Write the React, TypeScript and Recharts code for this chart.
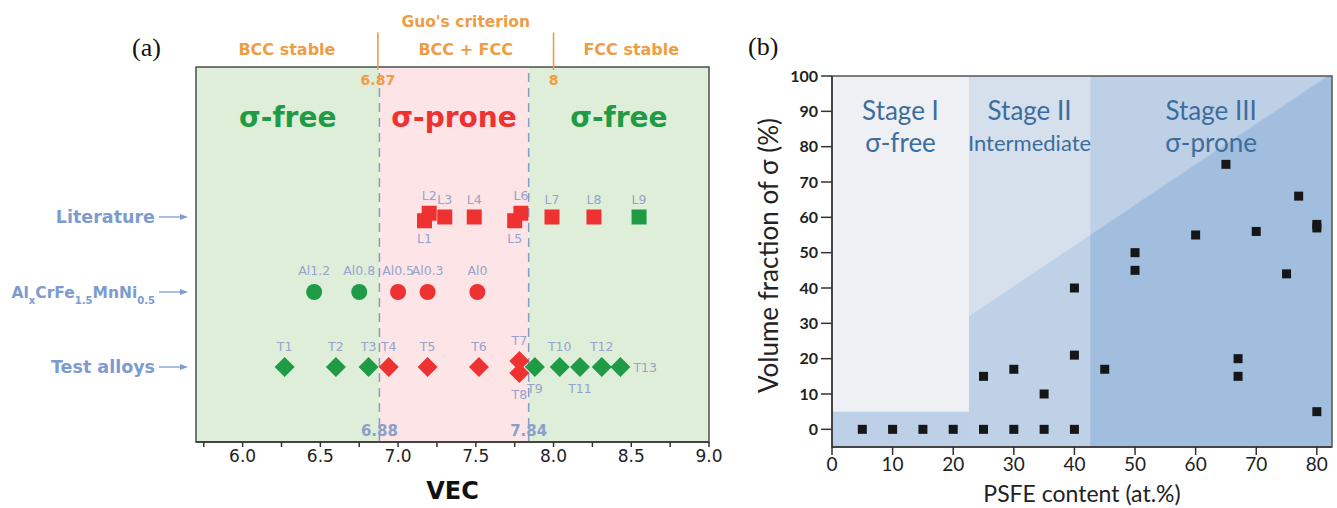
import React from 'react';
import {
  ScatterChart,
  ComposedChart,
  Scatter,
  Area,
  XAxis,
  YAxis,
  ReferenceArea,
  ReferenceLine,
  ReferenceDot,
} from 'recharts';

/* ---------------- (a) VEC map ---------------- */
const vecDomain: [number, number] = [5.7, 9.0];
const vecTicks = [5.75, 6.0, 6.25, 6.5, 6.75, 7.0, 7.25, 7.5, 7.75, 8.0, 8.25, 8.5, 8.75, 9.0];
const rowDomain: [number, number] = [0, 5];
const rowTicks = [1, 2, 3];
const rowTickLabels = ['Test alloys', 'AlxCrFe1.5MnNi0.5', 'Literature'];
// formula of the alloy series: [text, isSubscript]
const alloyFormula: [string, boolean][] = [
  ['Al', false], ['x', true], ['CrFe', false], ['1.5', true], ['MnNi', false], ['0.5', true],
];

const sigmaBounds = [6.88, 7.84];
const guoBounds = [6.87, 8];
const phaseLabels = ['BCC stable', 'BCC + FCC', 'FCC stable'];
const regionLabels = ['σ-free', 'σ-prone', 'σ-free'];

const literatureNames = ['L1', 'L2', 'L3', 'L4', 'L5', 'L6', 'L7', 'L8', 'L9'];
const literatureVec = [7.17, 7.2, 7.3, 7.49, 7.75, 7.79, 7.99, 8.26, 8.55];
const literatureRow = [2.95, 3.05, 3, 3, 2.95, 3.05, 3, 3, 3];
const literatureSigma = [1, 1, 1, 1, 1, 1, 1, 1, 0];

const alloyNames = ['Al1.2', 'Al0.8', 'Al0.5', 'Al0.3', 'Al0'];
const alloyVec = [6.46, 6.75, 7.0, 7.19, 7.51];
const alloyRow = [2, 2, 2, 2, 2];
const alloySigma = [0, 0, 1, 1, 1];

const testNames = ['T1', 'T2', 'T3', 'T4', 'T5', 'T6', 'T7', 'T8', 'T9', 'T10', 'T11', 'T12', 'T13'];
const testVec = [6.27, 6.6, 6.81, 6.94, 7.19, 7.52, 7.78, 7.78, 7.88, 8.04, 8.17, 8.31, 8.43];
const testRow = [1, 1, 1, 1, 1, 1, 1.08, 0.92, 1, 1, 1, 1, 1];
const testSigma = [0, 0, 0, 1, 1, 1, 1, 1, 0, 0, 0, 0, 0];

/* ---------------- (b) sigma fraction vs PSFE ---------------- */
const psfeDomain: [number, number] = [0, 82.5];
const psfeTicks = [0, 10, 20, 30, 40, 50, 60, 70, 80];
const fractionDomain: [number, number] = [-5, 100];
const fractionTicks = [0, 10, 20, 30, 40, 50, 60, 70, 80, 90, 100];
const stageBounds = [0, 22.6, 42.6, 82.5];
const stageTitles = ['Stage I', 'Stage II', 'Stage III'];
const stageNotes = ['σ-free', 'Intermediate', 'σ-prone'];
const freeBandTop = 5;
const boundaryX = [22.6, 42.6, 81.8, 82.5];
const boundaryY = [32, 55, 100, 100];

const psfeContent = [5, 10, 15, 20, 25, 30, 35, 40, 25, 30, 35, 40, 40, 45, 50, 50, 60, 65, 67, 67, 70, 75, 77, 80, 80, 80];
const sigmaFraction = [0, 0, 0, 0, 0, 0, 0, 0, 15, 17, 10, 21, 40, 17, 50, 45, 55, 75, 20, 15, 56, 44, 66, 58, 57, 5];

/* ---------------- styling ---------------- */
const SANS = 'DejaVu Sans, Verdana, sans-serif';
const LATO = 'Lato, "Open Sans", sans-serif';
const RED = '#ee3232';
const GREEN = '#1f9b45';
const ORANGE = '#ef9d45';
const ROW_BLUE = '#7d9bcf';
const MARK_LABEL = '#96a3cb';
const STAGE_TEXT = '#3d6d9d';

type Pt = { name: string; vec: number; row: number; sigma: number };
const buildSeries = (names: string[], vec: number[], row: number[], sigma: number[]): Pt[] =>
  names.map((name, i) => ({ name, vec: vec[i], row: row[i], sigma: sigma[i] }));

const literature = buildSeries(literatureNames, literatureVec, literatureRow, literatureSigma);
const alloys = buildSeries(alloyNames, alloyVec, alloyRow, alloySigma);
const tests = buildSeries(testNames, testVec, testRow, testSigma);

const samples = psfeContent.map((x, i) => ({ x, y: sigmaFraction[i] }));

const labelBelow = new Set(['L1', 'L5', 'T8', 'T9', 'T11']);
const labelRight = new Set(['T13']);

type MarkKind = 'square' | 'circle' | 'diamond';
const markShape = (kind: MarkKind) => (props: any) => {
  const { cx, cy, payload } = props;
  if (cx == null || cy == null) return <g />;
  const fill = payload.sigma ? RED : GREEN;
  let mark: React.ReactNode;
  if (kind === 'square') {
    mark = <rect x={cx - 7.5} y={cy - 7.5} width={15} height={15} fill={fill} />;
  } else if (kind === 'circle') {
    mark = <circle cx={cx} cy={cy} r={8} fill={fill} />;
  } else {
    mark = (
      <polygon
        points={`${cx},${cy - 10} ${cx + 10},${cy} ${cx},${cy + 10} ${cx - 10},${cy}`}
        fill={fill}
      />
    );
  }
  const gap = kind === 'square' ? 18 : kind === 'circle' ? 22 : 21;
  let lx = cx;
  let ly = cy - gap;
  let anchor: 'middle' | 'start' = 'middle';
  if (labelBelow.has(payload.name)) ly = cy + gap;
  if (labelRight.has(payload.name)) {
    lx = cx + 13;
    ly = cy;
    anchor = 'start';
  }
  return (
    <g>
      {mark}
      <text
        x={lx}
        y={ly}
        textAnchor={anchor}
        dominantBaseline="central"
        fontSize={12.5}
        fontFamily={SANS}
        fill={MARK_LABEL}
      >
        {payload.name}
      </text>
    </g>
  );
};

const RowTick = (props: any) => {
  const { x, y, payload } = props;
  const idx = rowTicks.indexOf(payload.value);
  const textProps = {
    x: x - 41,
    y: y + 6,
    textAnchor: 'end' as const,
    fontSize: 17.5,
    fontWeight: 700,
    fontFamily: SANS,
    fill: ROW_BLUE,
  };
  return (
    <g>
      {idx === 1 ? (
        <text {...textProps}>
          {alloyFormula.map(([t, sub], i) => {
            const prevSub = i > 0 && alloyFormula[i - 1][1];
            const dy = sub ? 6 : prevSub ? -6 : 0;
            return (
              <tspan key={i} dy={dy} fontSize={sub ? 10 : 15.5}>
                {t}
              </tspan>
            );
          })}
        </text>
      ) : (
        <text {...textProps}>{rowTickLabels[idx]}</text>
      )}
      <line x1={x - 37} y1={y} x2={x - 14} y2={y} stroke={ROW_BLUE} strokeWidth={1.3} />
      <path d={`M${x - 8},${y} L${x - 16},${y - 3} L${x - 16},${y + 3} Z`} fill={ROW_BLUE} />
    </g>
  );
};

const textLabel = (value: string, fill: string, fontSize: number, fontWeight = 700) => ({
  value,
  position: 'center' as const,
  fill,
  fontSize,
  fontWeight,
  fontFamily: SANS,
});

const VecChart = () => {
  const regionEdges = [vecDomain[0], sigmaBounds[0], sigmaBounds[1], vecDomain[1]];
  const phaseEdges = [vecDomain[0], guoBounds[0], guoBounds[1], vecDomain[1]];
  const regionFill = ['#dfeed8', '#fde4e6', '#dfeed8'];
  const regionColor = [GREEN, RED, GREEN];
  return (
    <ScatterChart width={740} height={508} margin={{ top: 67, right: 31, bottom: 36, left: 0 }}>
      <XAxis
        type="number"
        dataKey="vec"
        domain={vecDomain}
        allowDataOverflow
        ticks={vecTicks}
        interval={0}
        tickFormatter={(v: number) => (Math.abs(v * 2 - Math.round(v * 2)) < 1e-6 ? v.toFixed(1) : '')}
        tickSize={5}
        tickMargin={3}
        stroke="#333"
        strokeWidth={1.5}
        tick={{ fontSize: 17, fill: '#222', fontFamily: SANS }}
        label={{
          content: (p: any) => {
            const vb = p.viewBox;
            return (
              <text
                x={vb.x + vb.width / 2}
                y={vb.y + 49}
                textAnchor="middle"
                dominantBaseline="central"
                fontSize={24}
                fontWeight={700}
                fontFamily={SANS}
                fill="#111"
              >
                VEC
              </text>
            );
          },
        }}
      />
      <YAxis
        type="number"
        dataKey="row"
        domain={rowDomain}
        ticks={rowTicks}
        interval={0}
        width={196}
        axisLine={false}
        tickLine={false}
        tickSize={0}
        tickMargin={0}
        tick={<RowTick />}
      />
      {regionLabels.map((lab, i) => (
        <ReferenceArea
          key={`region-${i}`}
          x1={regionEdges[i]}
          x2={regionEdges[i + 1]}
          y1={rowDomain[0]}
          y2={rowDomain[1]}
          fill={regionFill[i]}
          fillOpacity={1}
          stroke="none"
          label={{
            value: lab,
            position: 'insideTop',
            offset: 40,
            fill: regionColor[i],
            fontSize: 28,
            fontWeight: 700,
            fontFamily: SANS,
          }}
        />
      ))}
      {sigmaBounds.map((b) => (
        <ReferenceLine key={`sb-${b}`} x={b} stroke="#8c9cc4" strokeWidth={1.5} strokeDasharray="9 6" />
      ))}
      {sigmaBounds.map((b) => (
        <ReferenceDot
          key={`sbl-${b}`}
          x={b}
          y={0.15}
          r={0}
          stroke="none"
          label={textLabel(String(b), '#8aa0c8', 15)}
        />
      ))}
      {guoBounds.map((b) => (
        <ReferenceLine
          key={`guo-${b}`}
          segment={[
            { x: b, y: 4.96 },
            { x: b, y: 5.46 },
          ]}
          ifOverflow="visible"
          stroke={ORANGE}
          strokeWidth={1.6}
        />
      ))}
      {guoBounds.map((b) => (
        <ReferenceDot
          key={`guol-${b}`}
          x={b}
          y={4.83}
          r={0}
          stroke="none"
          label={textLabel(String(b), ORANGE, 14)}
        />
      ))}
      {phaseLabels.map((lab, i) => (
        <ReferenceDot
          key={`phase-${i}`}
          x={(phaseEdges[i] + phaseEdges[i + 1]) / 2}
          y={5.24}
          r={0}
          stroke="none"
          ifOverflow="visible"
          label={textLabel(lab, ORANGE, 16)}
        />
      ))}
      <ReferenceDot
        x={(guoBounds[0] + guoBounds[1]) / 2}
        y={5.61}
        r={0}
        stroke="none"
        ifOverflow="visible"
        label={textLabel("Guo's criterion", ORANGE, 15.5)}
      />
      <Scatter data={literature} shape={markShape('square')} isAnimationActive={false} />
      <Scatter data={alloys} shape={markShape('circle')} isAnimationActive={false} />
      <Scatter data={tests} shape={markShape('diamond')} isAnimationActive={false} />
      <ReferenceArea
        x1={vecDomain[0]}
        x2={vecDomain[1]}
        y1={rowDomain[0]}
        y2={rowDomain[1]}
        fill="#ffffff"
        fillOpacity={0}
        stroke="#4a4f4a"
        strokeWidth={1.5}
      />
    </ScatterChart>
  );
};

const stageFill = ['#eef0f4', '#d5e0ec', '#bdd0e6'];

const StageLabel = (title: string, note: string, small: boolean) => (p: any) => {
  const vb = p.viewBox;
  const cx = vb.x + vb.width / 2;
  return (
    <g fontFamily={LATO} fill={STAGE_TEXT} textAnchor="middle">
      <text x={cx} y={vb.y + 34} dominantBaseline="central" fontSize={26}>
        {title}
      </text>
      <text x={cx} y={vb.y + 66} dominantBaseline="central" fontSize={small ? 22 : 26}>
        {note}
      </text>
    </g>
  );
};

const FractionChart = () => {
  const stageAreas = stageTitles.map((_, i) => [
    { x: stageBounds[i], y: fractionDomain[1] },
    { x: stageBounds[i + 1], y: fractionDomain[1] },
  ]);
  const freeBand = [
    { x: stageBounds[0], y: freeBandTop },
    { x: stageBounds[1], y: freeBandTop },
  ];
  const boundary = boundaryX.map((x, i) => ({ x, y: boundaryY[i] }));
  const boundaryII = boundary.filter((d) => d.x <= stageBounds[2]);
  const boundaryIII = boundary.filter((d) => d.x >= stageBounds[2]);
  return (
    <ComposedChart width={617} height={508} margin={{ top: 76, right: 5, bottom: 6, left: 0 }}>
      <XAxis
        type="number"
        dataKey="x"
        domain={psfeDomain}
        allowDataOverflow
        ticks={psfeTicks}
        interval={0}
        height={55}
        tickSize={8}
        tickMargin={3}
        stroke="#333"
        strokeWidth={1.5}
        tick={{ fontSize: 19, fill: '#222', fontFamily: LATO }}
        label={{
          content: (p: any) => {
            const vb = p.viewBox;
            return (
              <text
                x={vb.x + vb.width / 2}
                y={vb.y + 46}
                textAnchor="middle"
                dominantBaseline="central"
                fontSize={23}
                fontFamily={LATO}
                fill="#222"
              >
                PSFE content (at.%)
              </text>
            );
          },
        }}
      />
      <YAxis
        type="number"
        dataKey="y"
        domain={fractionDomain}
        allowDataOverflow
        ticks={fractionTicks}
        interval={0}
        width={112}
        tickSize={11}
        tickMargin={3}
        stroke="#333"
        strokeWidth={1.5}
        tick={{ fontSize: 16, fill: '#222', fontFamily: LATO, fontWeight: 700 }}
        label={{
          content: (p: any) => {
            const vb = p.viewBox;
            const cx = vb.x + 48;
            const cy = vb.y + vb.height / 2 - 6;
            return (
              <text
                x={cx}
                y={cy}
                transform={`rotate(-90 ${cx} ${cy})`}
                textAnchor="middle"
                dominantBaseline="central"
                fontSize={26}
                fontFamily={LATO}
                fill="#222"
              >
                Volume fraction of σ (%)
              </text>
            );
          },
        }}
      />
      {stageAreas.map((d, i) => (
        <Area
          key={`stage-${i}`}
          data={d}
          dataKey="y"
          baseValue={fractionDomain[0]}
          fill={stageFill[i]}
          fillOpacity={1}
          stroke="none"
          dot={false}
          activeDot={false}
          isAnimationActive={false}
        />
      ))}
      <Area
        data={freeBand}
        dataKey="y"
        baseValue={fractionDomain[0]}
        fill="#bdd0e7"
        fillOpacity={1}
        stroke="none"
        dot={false}
        activeDot={false}
        isAnimationActive={false}
      />
      <Area
        data={boundaryII}
        dataKey="y"
        baseValue={fractionDomain[0]}
        fill="#bed1e7"
        fillOpacity={1}
        stroke="none"
        dot={false}
        activeDot={false}
        isAnimationActive={false}
      />
      <Area
        data={boundaryIII}
        dataKey="y"
        baseValue={fractionDomain[0]}
        fill="#a1bedf"
        fillOpacity={1}
        stroke="none"
        dot={false}
        activeDot={false}
        isAnimationActive={false}
      />
      {stageTitles.map((t, i) => (
        <ReferenceArea
          key={`stage-label-${i}`}
          x1={stageBounds[i]}
          x2={stageBounds[i + 1]}
          y1={fractionDomain[0]}
          y2={fractionDomain[1]}
          fill="#ffffff"
          fillOpacity={0}
          stroke="none"
          label={StageLabel(t, stageNotes[i], i === 1)}
        />
      ))}
      <Scatter
        data={samples}
        isAnimationActive={false}
        shape={(p: any) => <rect x={p.cx - 4.5} y={p.cy - 4.5} width={9} height={9} fill="#161616" />}
      />
      <ReferenceArea
        x1={psfeDomain[0]}
        x2={psfeDomain[1]}
        y1={fractionDomain[0]}
        y2={fractionDomain[1]}
        fill="#ffffff"
        fillOpacity={0}
        stroke="#555"
        strokeWidth={1.5}
      />
    </ComposedChart>
  );
};

const panelTag: React.CSSProperties = {
  position: 'absolute',
  fontFamily: '"Liberation Serif", "Times New Roman", serif',
  fontSize: 26,
  lineHeight: '26px',
  color: '#111',
};

export default function App() {
  return (
    <div
      style={{
        position: 'absolute',
        left: 0,
        top: 0,
        width: 1337,
        height: 508,
        background: '#fff',
        overflow: 'hidden',
      }}
    >
      <div style={{ position: 'absolute', left: 0, top: 0 }}>
        <VecChart />
      </div>
      <div style={{ position: 'absolute', left: 720, top: 0 }}>
        <FractionChart />
      </div>
      <div style={{ ...panelTag, left: 132, top: 35 }}>(a)</div>
      <div style={{ ...panelTag, left: 748, top: 34 }}>(b)</div>
    </div>
  );
}
